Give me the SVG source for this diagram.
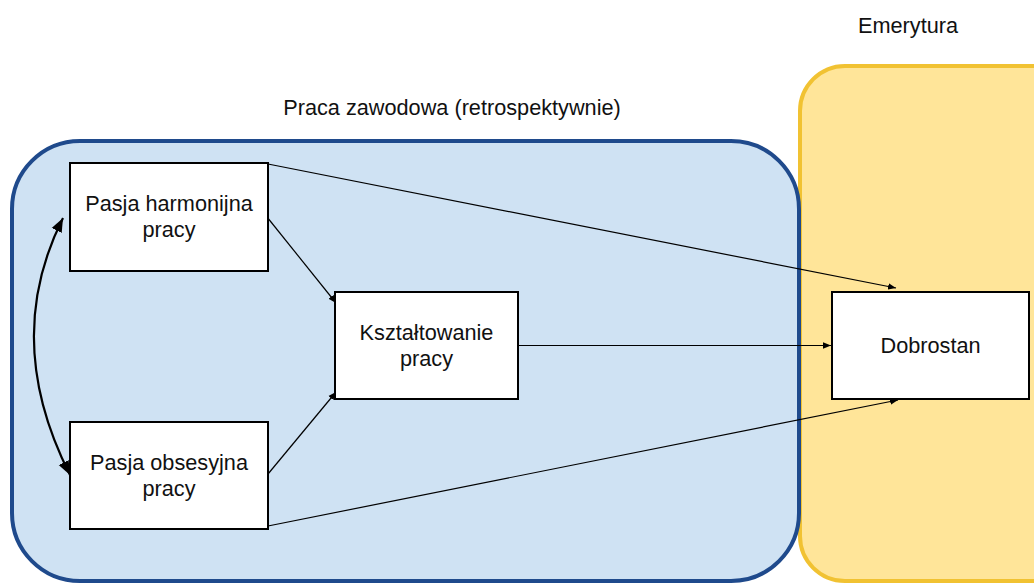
<svg xmlns="http://www.w3.org/2000/svg" width="1034" height="583" viewBox="0 0 1034 583">
  <style>
    .lbl { font-family: "Liberation Sans", Arial, sans-serif; font-size: 21.7px; fill: #111; text-anchor: middle; }
    .node { fill: #ffffff; stroke: #000000; stroke-width: 2; }
    .thin { fill: none; stroke: #000000; stroke-width: 1.2; marker-end: url(#tip); }
    .bi { fill: none; stroke: #000000; stroke-width: 2.2; marker-start: url(#tipBig); marker-end: url(#tipBig); }
  </style>
  <defs>
    <marker id="tip" viewBox="0 0 10 10" refX="10" refY="5" markerWidth="8" markerHeight="8" markerUnits="userSpaceOnUse" orient="auto">
      <path d="M0,1 L10,5 L0,9 Z" fill="#000"/>
    </marker>
    <marker id="tipBig" viewBox="0 0 10 10" refX="10" refY="5" markerWidth="14" markerHeight="14" markerUnits="userSpaceOnUse" orient="auto-start-reverse">
      <path d="M0,1 L10,5 L0,9 Z" fill="#000"/>
    </marker>
  </defs>

  <!-- background areas -->
  <g id="area-retirement">
    <rect x="800" y="66" width="290" height="515" rx="45" ry="45" fill="#FFE599" stroke="#F1C232" stroke-width="4"/>
    <text class="lbl" x="908" y="33">Emerytura</text>
  </g>
  <g id="area-work">
    <rect x="12" y="141" width="787" height="440" rx="68" ry="68" fill="#CFE2F3" stroke="#1F4A8C" stroke-width="4"/>
    <text class="lbl" x="452" y="115">Praca zawodowa (retrospektywnie)</text>
  </g>

  <!-- connectors -->
  <g id="connectors">
    <line class="thin" x1="268" y1="164" x2="896" y2="288"/>
    <line class="thin" x1="267" y1="217" x2="336" y2="303"/>
    <line class="thin" x1="268" y1="474" x2="336" y2="392"/>
    <line class="thin" x1="518" y1="345.5" x2="831" y2="345.5"/>
    <line class="thin" x1="268" y1="526" x2="898" y2="400"/>
    <path class="bi" d="M63,218 Q1.5,340 70,475"/>
  </g>

  <!-- nodes -->
  <g id="node-harmonijna">
    <rect class="node" x="70" y="163" width="198" height="108"/>
    <text class="lbl" x="169" y="211">Pasja harmonijna</text>
    <text class="lbl" x="169" y="237">pracy</text>
  </g>
  <g id="node-obsesyjna">
    <rect class="node" x="70" y="422" width="198" height="107"/>
    <text class="lbl" x="169" y="470">Pasja obsesyjna</text>
    <text class="lbl" x="169" y="496">pracy</text>
  </g>
  <g id="node-ksztaltowanie">
    <rect class="node" x="335" y="292" width="183" height="107"/>
    <text class="lbl" x="426.5" y="340">Kształtowanie</text>
    <text class="lbl" x="426.5" y="366">pracy</text>
  </g>
  <g id="node-dobrostan">
    <rect class="node" x="832" y="292" width="197" height="107"/>
    <text class="lbl" x="930.5" y="353">Dobrostan</text>
  </g>
</svg>
